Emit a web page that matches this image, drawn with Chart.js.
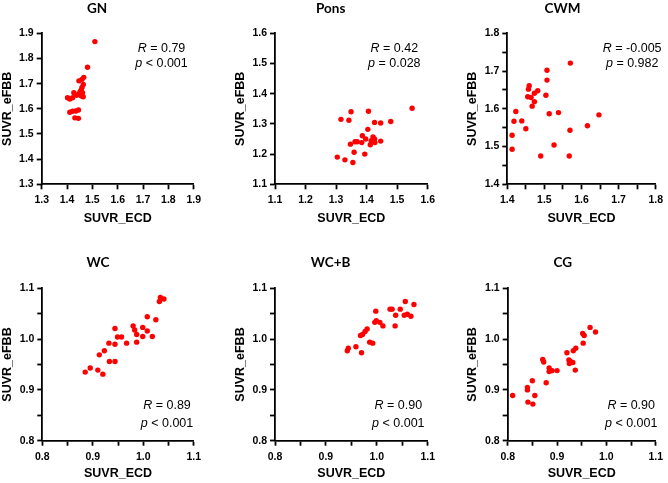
<!DOCTYPE html>
<html>
<head>
<meta charset="utf-8">
<script src="https://cdn.jsdelivr.net/npm/chart.js@4"></script>
<style>
  html, body { margin: 0; padding: 0; background: #fff; }
  body { width: 668px; height: 483px; position: relative; overflow: hidden; }
  canvas { position: absolute; }
</style>
</head>
<body>
<canvas id="c0"></canvas>
<canvas id="c1"></canvas>
<canvas id="c2"></canvas>
<canvas id="c3"></canvas>
<canvas id="c4"></canvas>
<canvas id="c5"></canvas>
<script>
// ---------------- DATA ----------------
const panelTitles = ["GN", "Pons", "CWM", "WC", "WC+B", "CG"];
const rTexts = ["0.79", "0.42", "-0.005", "0.89", "0.90", "0.90"];
const pTexts = ["< 0.001", "= 0.028", "= 0.982", "< 0.001", "< 0.001", "< 0.001"];
const xAxisLabel = "SUVR_ECD";
const yAxisLabel = "SUVR_eFBB";

const gnX = [1.510,1.481,1.466,1.459,1.447,1.464,1.459,1.456,1.461,1.451,1.427,1.438,1.447,1.457,1.464,1.402,1.411,1.422,1.411,1.422,1.435,1.445,1.431,1.445];
const gnY = [1.867,1.765,1.725,1.717,1.711,1.697,1.685,1.675,1.664,1.667,1.664,1.654,1.658,1.651,1.648,1.644,1.639,1.644,1.586,1.590,1.591,1.595,1.564,1.562];

const ponsX = [1.349,1.406,1.549,1.316,1.342,1.426,1.446,1.479,1.404,1.386,1.397,1.421,1.426,1.446,1.415,1.427,1.412,1.384,1.362,1.369,1.347,1.359,1.394,1.304,1.329,1.355];
const ponsY = [1.340,1.342,1.352,1.315,1.312,1.305,1.303,1.308,1.282,1.261,1.250,1.257,1.250,1.243,1.244,1.238,1.231,1.238,1.241,1.241,1.233,1.206,1.200,1.190,1.181,1.172];

const cwmX = [1.570,1.507,1.507,1.459,1.457,1.482,1.473,1.455,1.464,1.504,1.473,1.467,1.423,1.513,1.538,1.647,1.418,1.439,1.450,1.616,1.569,1.413,1.526,1.413,1.490,1.567];
const cwmY = [1.721,1.702,1.676,1.661,1.652,1.648,1.641,1.632,1.630,1.636,1.619,1.607,1.593,1.587,1.590,1.584,1.567,1.568,1.547,1.555,1.543,1.530,1.504,1.493,1.475,1.475];

const wcX = [1.034,1.041,1.032,1.008,1.025,0.980,0.983,0.999,0.944,0.987,1.008,0.999,1.018,0.949,0.957,0.987,0.967,0.944,0.932,0.923,0.913,0.933,0.944,0.895,0.885,0.910,0.920];
const wcY = [1.082,1.079,1.074,1.044,1.038,1.026,1.018,1.023,1.021,1.009,1.016,1.005,1.005,1.004,1.004,0.994,0.992,0.990,0.992,0.977,0.969,0.956,0.956,0.943,0.935,0.939,0.931];

const wcbX = [1.056,1.073,1.026,1.030,1.046,0.998,1.037,1.054,1.060,1.067,0.996,0.999,1.006,1.012,1.036,0.981,0.977,0.972,0.968,0.986,0.992,0.959,0.944,0.942,0.970];
const wcbY = [1.074,1.068,1.059,1.059,1.059,1.055,1.047,1.047,1.049,1.045,1.033,1.036,1.033,1.026,1.026,1.020,1.015,1.009,1.007,0.994,0.992,0.985,0.982,0.977,0.973];

const cgX = [0.967,0.978,0.952,0.955,0.953,0.938,0.933,0.920,0.924,0.927,0.932,0.925,0.937,0.871,0.873,0.884,0.888,0.884,0.890,0.900,0.878,0.850,0.840,0.840,0.855,0.810,0.841,0.851];
const cgY = [1.023,1.014,1.011,1.007,0.992,0.982,0.977,0.973,0.959,0.956,0.954,0.952,0.939,0.960,0.955,0.943,0.938,0.936,0.938,0.938,0.914,0.918,0.905,0.900,0.889,0.889,0.876,0.872];

const xMins = [1.3, 1.1, 1.4, 0.8, 0.8, 0.8];
const xMaxs = [1.9, 1.6, 1.8, 1.1, 1.1, 1.1];
const yMins = [1.3, 1.1, 1.4, 0.8, 0.8, 0.8];
const yMaxs = [1.9, 1.6, 1.8, 1.1, 1.1, 1.1];
const tickSteps = [0.1, 0.1, 0.05, 0.05, 0.05, 0.05];

const seriesX = [gnX, ponsX, cwmX, wcX, wcbX, cgX];
const seriesY = [gnY, ponsY, cwmY, wcY, wcbY, cgY];

// ---------------- LAYOUT ----------------
const layoutCfg = [
  {left: 0,   top: 0,   w: 206, h: 226, yW: 41.7, padR: 11.7, xH: 41.7, tpTop: 0.4,  tpBot: 16.7, annX: 119.8, annY: [18.4, 33.4]},
  {left: 233, top: 0,   w: 207, h: 226, yW: 42.0, padR: 11.7, xH: 41.7, tpTop: 0.4,  tpBot: 16.7, annX: 119.3, annY: [18.4, 33.4]},
  {left: 465, top: 0,   w: 203, h: 226, yW: 42.3, padR: 8.0,  xH: 41.7, tpTop: 0.4,  tpBot: 16.7, annX: 124.9, annY: [18.4, 33.4]},
  {left: 0,   top: 240, w: 206, h: 241, yW: 42.3, padR: 10.0, xH: 40.3, tpTop: 14.8, tpBot: 17.3, annX: 124.7, annY: [121, 138.4]},
  {left: 233, top: 240, w: 207, h: 241, yW: 42.0, padR: 11.7, xH: 40.3, tpTop: 14.8, tpBot: 17.3, annX: 123.3, annY: [121, 138.4]},
  {left: 465, top: 240, w: 203, h: 241, yW: 42.7, padR: 7.3,  xH: 40.3, tpTop: 14.8, tpBot: 17.3, annX: 123.5, annY: [121, 138.4]}
];

const statPlugin = {
  id: 'statText',
  afterDraw(chart, args, opts) {
    const ctx = chart.ctx;
    const ca = chart.chartArea;
    const size = 12.5;
    const fam = '"Liberation Sans", Arial, sans-serif';
    const lines = [["R", " = " + opts.r], ["p", " " + opts.p]];
    ctx.save();
    ctx.fillStyle = '#000';
    ctx.textBaseline = 'alphabetic';
    ctx.textAlign = 'left';
    lines.forEach((ln, i) => {
      ctx.font = 'italic ' + size + 'px ' + fam;
      const w1 = ctx.measureText(ln[0]).width;
      ctx.font = size + 'px ' + fam;
      const w2 = ctx.measureText(ln[1]).width;
      const x0 = ca.left + opts.x - (w1 + w2) / 2;
      const y = ca.top + opts.y[i];
      ctx.font = 'italic ' + size + 'px ' + fam;
      ctx.fillText(ln[0], x0, y);
      ctx.font = size + 'px ' + fam;
      ctx.fillText(ln[1], x0 + w1, y);
    });
    ctx.restore();
  }
};

function tickLabel(v) {
  const t = v * 10;
  return Math.abs(t - Math.round(t)) < 1e-6 ? v.toFixed(1) : '';
}

const tickFont = {family: '"Liberation Sans", Arial, sans-serif', size: 10.5, weight: 'bold'};
const axTitleFont = {family: '"Liberation Sans", Arial, sans-serif', size: 12.5, weight: 'bold'};

for (let i = 0; i < 6; i++) {
  const L = layoutCfg[i];
  const cv = document.getElementById('c' + i);
  cv.width = L.w; cv.height = L.h;
  cv.style.left = L.left + 'px'; cv.style.top = L.top + 'px';
  cv.style.width = L.w + 'px'; cv.style.height = L.h + 'px';
  const pts = seriesX[i].map((x, k) => ({x: x, y: seriesY[i][k]}));
  new Chart(cv, {
    type: 'scatter',
    data: { datasets: [{ data: pts, backgroundColor: '#FF0000', borderWidth: 0, pointRadius: 2.7, pointHoverRadius: 2.7 }] },
    plugins: [statPlugin],
    options: {
      responsive: false,
      devicePixelRatio: 1,
      animation: false,
      events: [],
      layout: { padding: { left: 0, top: 0, bottom: 0, right: L.padR } },
      plugins: {
        legend: { display: false },
        tooltip: { enabled: false },
        title: {
          display: true,
          text: panelTitles[i],
          color: '#000',
          font: { family: 'Lato, "Open Sans", sans-serif', size: 13.5, weight: 'bold', lineHeight: 1.2 },
          padding: { top: L.tpTop, bottom: L.tpBot }
        },
        statText: { r: rTexts[i], p: pTexts[i], x: L.annX, y: L.annY }
      },
      scales: {
        x: {
          type: 'linear',
          min: xMins[i], max: xMaxs[i],
          afterFit: s => { s.height = L.xH; },
          border: { display: true, color: '#000', width: 1.8 },
          grid: { display: true, drawOnChartArea: false, drawTicks: true, tickLength: 5, tickWidth: 1.8, tickColor: '#000' },
          ticks: { stepSize: tickSteps[i], autoSkip: false, maxRotation: 0, padding: 5, color: '#000', font: tickFont, callback: tickLabel },
          title: { display: true, text: xAxisLabel, color: '#000', font: axTitleFont, padding: 0 }
        },
        y: {
          type: 'linear',
          min: yMins[i], max: yMaxs[i],
          afterFit: s => { s.width = L.yW; },
          border: { display: true, color: '#000', width: 1.8 },
          grid: { display: true, drawOnChartArea: false, drawTicks: true, tickLength: 5, tickWidth: 1.8, tickColor: '#000' },
          ticks: { stepSize: tickSteps[i], autoSkip: false, padding: 3, color: '#000', font: tickFont, callback: tickLabel },
          title: { display: true, text: yAxisLabel, color: '#000', font: axTitleFont, padding: 0 }
        }
      }
    }
  });
}
</script>
</body>
</html>
